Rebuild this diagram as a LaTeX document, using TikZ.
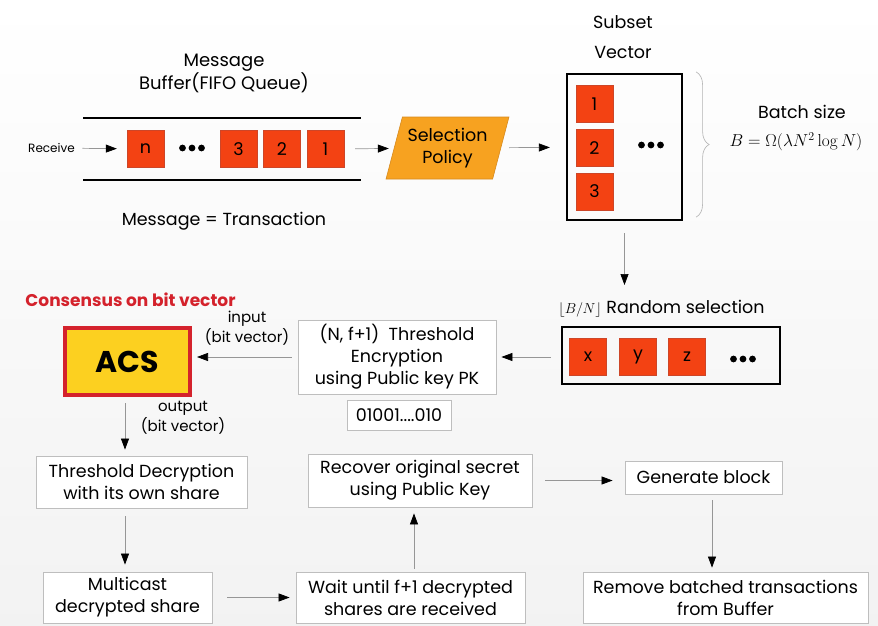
\documentclass[tikz,border=0pt]{standalone}
\usepackage[no-math]{fontspec}
\setmainfont{Poppins}
\usepackage{tikz}
\usetikzlibrary{positioning,arrows.meta,shapes.geometric,decorations.pathreplacing}
\definecolor{cmsg}{RGB}{243,66,19}
\definecolor{cmsgedge}{RGB}{205,70,40}
\definecolor{cpolicy}{RGB}{247,162,32}
\definecolor{cpolicyedge}{RGB}{214,138,30}
\definecolor{cacs}{RGB}{252,208,32}
\definecolor{cacsedge}{RGB}{212,34,44}
\definecolor{cline}{RGB}{150,150,150}
\definecolor{cbox}{RGB}{190,190,190}

% three big dots centred on a named node
\newcommand{\tridots}[1]{%
  \foreach \k in {-9.5,0,9.5} {\fill ([xshift=\k pt]#1) circle (3.4pt);}}

\begin{document}
\begin{tikzpicture}[x=1pt,y=-1pt,
          every node/.style={font=\fontsize{17.5}{22}\selectfont},
          msg/.style={draw=cmsgedge, fill=cmsg, line width=0.4pt,
          minimum size=37pt, inner sep=0pt},
          stage/.style={draw=cbox, fill=white, line width=0.8pt,
          align=center, inner sep=0pt},
          frame/.style={draw=black, line width=2.2pt, inner sep=0pt},
          note/.style={align=center, font=\fontsize{15}{20}\selectfont},
          arr/.style={draw=cline, line width=0.7pt,
          -{Triangle[length=11pt,width=8pt,color=black]}},
        ]

          \useasboundingbox (0,0) rectangle (878,626);
          \fill[top color=white, bottom color=black!5] (0,0) rectangle (878,626);

          % ── Message buffer (top left) ─────────────────────────
          \node[note, font=\fontsize{18}{21}\selectfont] (buftitle) at (224,73.5)
            {Message\\Buffer(FIFO Queue)};
          \draw[line width=2pt] (83,118) -- (361,118);
          \draw[line width=2pt] (83,180) -- (361,180);
          \node[font=\fontsize{12}{13}\selectfont] (recv) at (51.5,148) {Receive};
          \node[msg] (qn) at (145.5,149) {n};
          \node[inner sep=0pt] (qdots) at (192,148) {};
          \node[msg] (q3) at (238.5,149) {3};
          \node[msg] (q2) at (282,149)   {2};
          \node[msg] (q1) at (325.5,149) {1};
          \node (bufnote) at (224,221) {Message = Transaction};

          \node[trapezium, trapezium left angle=70, trapezium right angle=110,
            trapezium stretches=true, minimum width=123pt, minimum height=62pt,
            draw=cpolicyedge, fill=cpolicy, line width=0.6pt, align=center,
            inner sep=0pt] (policy) at (447.5,148) {Selection\\Policy};

          % ── Subset vector (top right) ────────────────────────
          \node[note, font=\fontsize{17.5}{30}\selectfont] (subtitle) at (623,37)
            {Subset\\Vector};
          \node[frame, minimum width=115pt, minimum height=146pt] (subset)
            at (624.5,147) {};
          \node[msg] (s1) at (594.5,104)   {1};
          \node[msg] (s2) at (594.5,148)   {2};
          \node[msg] (s3) at (594.5,191.5) {3};
          \node[inner sep=0pt] (sdots) at (651,145) {};
          \node (bsize) at (802,112) {Batch size};
          \node[font=\fontsize{17}{20}\selectfont] (bform) at (796,142)
            {$B=\Omega(\lambda N^2\log N)$};

          % ── Random selection ─────────────────────────────────
          \node (rlabel) at (661.5,309)
            {{\fontsize{15}{15}\selectfont$\lfloor B/N\rfloor$}\ Random selection};
          \node[frame, minimum width=218pt, minimum height=57pt] (rbox)
            at (671,355.5) {};
          \node[msg] (rx) at (588,356.5) {x};
          \node[msg] (ry) at (638,356.5) {y};
          \node[msg] (rz) at (687,356.5) {z};
          \node[inner sep=0pt] (rdots) at (743,359) {};

          % ── Encryption and consensus ─────────────────────────
          \node[stage, minimum width=198pt, minimum height=74pt] (tenc) at (397,357)
            {(N, f+1)\ \ Threshold\\Encryption\\using Public key PK};
          \node[stage, minimum width=104pt, minimum height=30pt] (bits) at (399,415)
            {01001....010};
          \node[font=\fontsize{17}{20}\selectfont\bfseries, text=cacsedge] (cons)
            at (130.5,300) {Consensus on bit vector};
          \node[draw=cacsedge, fill=cacs, line width=4pt, minimum width=125pt,
            minimum height=67pt, font=\fontsize{30}{30}\selectfont\bfseries] (acs)
            at (127.5,361.5) {ACS};
          \node[note] (inlbl)  at (247,328) {input\\(bit vector)};
          \node[note] (outlbl) at (183,418) {output\\(bit vector)};

          % ── Decryption and block ─────────────────────────────
          \node[stage, minimum width=211pt, minimum height=52pt] (tdec) at (141.5,482)
            {Threshold Decryption\\with its own share};
          \node[stage, minimum width=169pt, minimum height=51pt] (mcast) at (127.5,597.5)
            {Multicast\\decrypted share};
          \node[stage, minimum width=229pt, minimum height=51pt] (wait) at (410.5,597.5)
            {Wait until f+1 decrypted\\shares are received};
          \node[stage, minimum width=224pt, minimum height=53pt] (recover) at (420,480.5)
            {Recover original secret\\using Public Key};
          \node[stage, minimum width=157pt, minimum height=33pt] (gen) at (703.5,477.5)
            {Generate block};
          \node[stage, minimum width=285pt, minimum height=51pt] (remove) at (725.5,597.5)
            {Remove batched transactions\\from Buffer};

          % ── Dots and brace ───────────────────────────────────
          \tridots{qdots}
          \tridots{sdots}
          \tridots{rdots}
          \draw[draw=black!30, line width=0.6pt, decorate,
            decoration={brace, amplitude=13pt}]
            ([xshift=13pt,yshift=1pt]subset.north east)
            -- ([xshift=13pt,yshift=4pt]subset.south east);

          % ── Edges ────────────────────────────────────────────
          \draw[arr, shorten <=4pt, shorten >=10pt] (recv) -- (qn);
          \draw[arr, shorten <=11pt, shorten >=5pt] (q1) -- (policy);
          \draw[arr, shorten <=8pt, shorten >=16pt] (policy) -- (subset);
          \draw[arr, shorten <=12pt, shorten >=12pt] (subset.south)
            -- (subset.south |- rlabel.north);
          \draw[arr, shorten <=10pt, shorten >=5pt] (rbox.west |- tenc.east) -- (tenc.east);
          \draw[arr, shorten <=6pt, shorten >=5pt] (tenc.west) -- (tenc.west -| acs.east);
          \draw[arr, shorten <=6pt, shorten >=6pt] ([xshift=-2.5pt]acs.south)
            -- ([xshift=-2.5pt]acs.south |- tdec.north);
          \draw[arr, shorten <=8pt, shorten >=7pt] ([xshift=-2.5pt]mcast.north |- tdec.south)
            -- ([xshift=-2.5pt]mcast.north);
          \draw[arr, shorten <=15pt, shorten >=6pt] (mcast.east) -- (wait.west);
          \draw[arr, shorten <=3pt, shorten >=6pt] ([xshift=3.5pt]wait.north)
            -- ([xshift=3.5pt]wait.north |- recover.south);
          \draw[arr, shorten <=13pt, shorten >=12pt] (recover.east)
            -- (recover.east -| gen.west);
          \draw[arr, shorten <=6pt, shorten >=4pt] ([xshift=8.5pt]gen.south)
            -- ([xshift=8.5pt]gen.south |- remove.north);

        \end{tikzpicture}
\end{document}
